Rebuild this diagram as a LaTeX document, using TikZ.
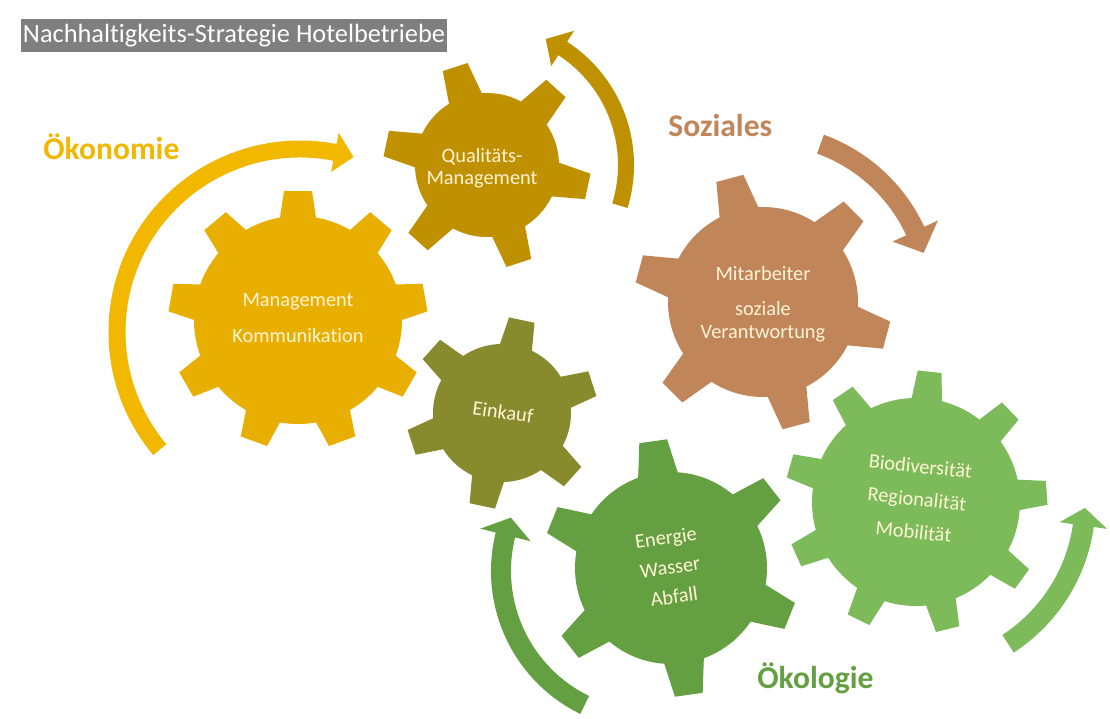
\documentclass[tikz,border=0pt]{standalone}
\usepackage{fontspec}
\setmainfont{Carlito}[Ligatures=CommonOff]
\definecolor{goldgelb}{HTML}{E9AF00}
\definecolor{pfeilgelb}{HTML}{F2B800}
\definecolor{dunkelgold}{HTML}{BF9000}
\definecolor{oliv}{HTML}{878B2E}
\definecolor{braun}{HTML}{C1855A}
\definecolor{gruen}{HTML}{64A041}
\definecolor{hellgruen}{HTML}{7DBB5A}
\definecolor{titelgrau}{HTML}{7F7F7F}
\definecolor{schrift}{HTML}{FFF4D6}

\begin{document}
\begin{tikzpicture}[x=0.02cm, y=0.02cm,
    gtext/.style={text=schrift, align=center, inner sep=0pt},
    bereich/.style={anchor=base west, inner sep=0pt, font=\fontsize{18}{20}\selectfont\bfseries}]
    \tikzstyle{every node}+=[inner sep=0pt]
    \useasboundingbox (0,0) rectangle (1110,-718);
    \fill[white] (0,0) rectangle (1110,-718);
    % title
    \node[fill=titelgrau, text=white, minimum width=8.52cm, minimum height=0.66cm,
          font=\fontsize{15}{17}\selectfont] (titel) at (234,-35.5) {Nachhaltigkeits-Strategie Hotelbetriebe};
    % arrows
    \begin{scope}[shift={(300,-332)}]
    \fill[pfeilgelb] (220:191.5) arc[start angle=220, end angle=79, radius=191.5]
        -- (79:203) -- (73:183) -- (79:163) -- (79:174.5)
        arc[start angle=79, end angle=220, radius=174.5] -- cycle;
    \end{scope}
    \begin{scope}[shift={(487,-165)}]
    \fill[dunkelgold] (-17:147) arc[start angle=-17, end angle=57, radius=147]
        -- (57:160) -- (65:139) -- (57:118) -- (57:131)
        arc[start angle=57, end angle=-17, radius=131] -- cycle;
    \end{scope}
    \begin{scope}[shift={(763,-302)}]
    \fill[braun] (70:178) arc[start angle=70, end angle=25, radius=178]
        -- (25:193) -- (17:168) -- (25:143) -- (25:158)
        arc[start angle=25, end angle=70, radius=158] -- cycle;
    \end{scope}
    \begin{scope}[shift={(650,-571)}]
    \fill[gruen] (244:159) arc[start angle=244, end angle=166, radius=159]
        -- (166:175) -- (159:149) -- (166:123) -- (166:139)
        arc[start angle=166, end angle=244, radius=139] -- cycle;
    \end{scope}
    \begin{scope}[shift={(916,-502)}]
    \fill[hellgruen] (-57:179.5) arc[start angle=-57, end angle=-8, radius=179.5]
        -- (-8:193) -- (-2:169) -- (-8:145) -- (-8:158.5)
        arc[start angle=-8, end angle=-57, radius=158.5] -- cycle;
    \end{scope}
    % gears
    \fill[goldgelb] (298,-320) circle (104);
    \foreach \w in {90,130,...,410}
        \fill[goldgelb, shift={(298,-320)}, rotate=\w] (96,-19) -- (129,-14) -- (129,14) -- (96,19) -- cycle;
    \fill[dunkelgold] (487,-165) circle (72);
    \foreach \w in {-12,48,...,288}
        \fill[dunkelgold, shift={(487,-165)}, rotate=\w] (64,-18) -- (103,-13) -- (103,13) -- (64,18) -- cycle;
    \fill[oliv] (502,-413) circle (69);
    \foreach \w in {18,78,...,318}
        \fill[oliv, shift={(502,-413)}, rotate=\w] (61,-17) -- (95,-13) -- (95,13) -- (61,17) -- cycle;
    \fill[braun] (763,-302) circle (95);
    \foreach \w in {-15,45,...,285}
        \fill[braun, shift={(763,-302)}, rotate=\w] (87,-21) -- (128,-14) -- (128,14) -- (87,21) -- cycle;
    \fill[gruen] (671,-568) circle (96);
    \foreach \w in {38,98,...,338}
        \fill[gruen, shift={(671,-568)}, rotate=\w] (88,-21) -- (128,-14) -- (128,14) -- (88,21) -- cycle;
    \fill[hellgruen] (916,-502) circle (104);
    \foreach \w in {4,44,...,324}
        \fill[hellgruen, shift={(916,-502)}, rotate=\w] (96,-16) -- (131,-12) -- (131,12) -- (96,16) -- cycle;
    % gear texts
    \node[gtext, font=\fontsize{11.6}{14}\selectfont] (kommunikation) at (298,-318) {Management\\[7pt]Kommunikation};
    \node[gtext, font=\fontsize{11.6}{12.5}\selectfont] (qualitaet) at (482,-168) {Qualitäts-\\Management};
    \node[gtext, font=\fontsize{11.6}{13}\selectfont] (mitarbeiter) at (763,-304) {Mitarbeiter\\[7pt]soziale\\Verantwortung};
    \node[gtext, font=\fontsize{11.6}{14}\selectfont, rotate=-8] (einkauf) at (503,-412) {Einkauf};
    \node[gtext, font=\fontsize{11.6}{17}\selectfont, rotate=8] (energie) at (670,-567) {Energie\\Wasser\\Abfall};
    \node[gtext, font=\fontsize{11.6}{18.7}\selectfont, rotate=-6] (biodiversitaet) at (917,-499) {Biodiversität\\Regionalität\\Mobilität};
    % labels
    \node[bereich, text=pfeilgelb] (oekonomie) at (43,-159) {Ökonomie};
    \node[bereich, text=braun] (soziales) at (668,-136) {Soziales};
    \node[bereich, text=gruen] (oekologie) at (757,-688) {Ökologie};
\end{tikzpicture}
\end{document}
